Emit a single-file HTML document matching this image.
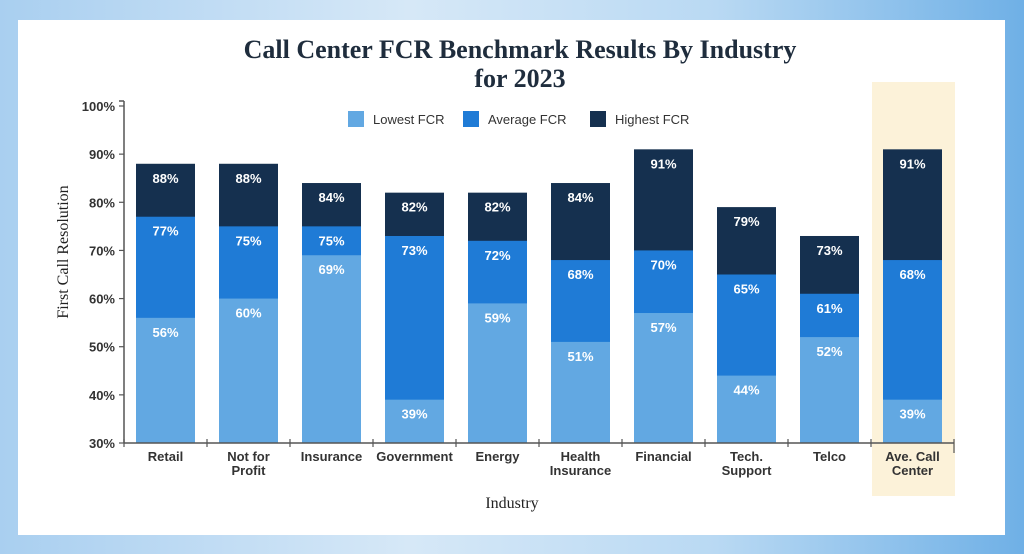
<!DOCTYPE html>
<html><head><meta charset="utf-8"><style>
body{margin:0;width:1024px;height:554px;overflow:hidden;background:linear-gradient(90deg,#a9cff0,#d6e8f7 40%,#b9d9f3 70%,#6fb0e6);font-family:"Liberation Sans",sans-serif}
#card{position:absolute;left:18px;top:20px;width:987px;height:515px;background:#fff}
</style></head><body>
<div id="card"></div>
<svg id="chart" width="1024" height="554" style="position:absolute;left:0;top:0">
<rect x="872" y="82" width="83" height="414" fill="#fcf2d9"/>
<text x="520" y="58" text-anchor="middle" font-family="Liberation Serif,serif" font-weight="bold" font-size="26" fill="#1f2d3d">Call Center FCR Benchmark Results By Industry</text>
<text x="520" y="87" text-anchor="middle" font-family="Liberation Serif,serif" font-weight="bold" font-size="26" fill="#1f2d3d">for 2023</text>
<text transform="translate(68,252) rotate(-90)" text-anchor="middle" font-family="Liberation Serif,serif" font-size="16" fill="#222">First Call Resolution</text>
<text x="512" y="508" text-anchor="middle" font-family="Liberation Serif,serif" font-size="16" fill="#222">Industry</text>
<g font-size="13" fill="#333">
<rect x="348" y="111" width="16" height="16" fill="#62a8e2"/><text x="373" y="124">Lowest FCR</text>
<rect x="463" y="111" width="16" height="16" fill="#1f7bd6"/><text x="488" y="124">Average FCR</text>
<rect x="590" y="111" width="16" height="16" fill="#15304f"/><text x="615" y="124">Highest FCR</text>
</g>
<g id="bars"></g><g id="axes"></g>
</svg>
<script>
const categories=[["Retail"],["Not for","Profit"],["Insurance"],["Government"],["Energy"],["Health","Insurance"],["Financial"],["Tech.","Support"],["Telco"],["Ave. Call","Center"]];
const lowest=[56,60,69,39,59,51,57,44,52,39];
const average=[77,75,75,73,72,68,70,65,61,68];
const highest=[88,88,84,82,82,84,91,79,73,91];
const yTicks=[30,40,50,60,70,80,90,100];
const NS="http://www.w3.org/2000/svg";
const x0=124,band=83,bw=59,yBase=443,yTop=106;
function y(v){return yBase-(v-30)/70*(yBase-yTop);}
function xc(i){return x0+band*i+band/2;}
function mk(t,a,p){const e=document.createElementNS(NS,t);for(const k in a)e.setAttribute(k,a[k]);p.appendChild(e);return e;}
const bars=document.getElementById('bars'),axes=document.getElementById('axes');
const series=[[highest,"#15304f","highest"],[average,"#1f7bd6","average"],[lowest,"#62a8e2","lowest"]];
categories.forEach((c,i)=>{
  series.forEach(([arr,col,nm])=>{
    const r=mk('rect',{x:xc(i)-bw/2,y:y(arr[i]),width:bw,height:yBase-y(arr[i]),fill:col},bars);
    
    
  });
  series.forEach(([arr,col,nm])=>{
    const t=mk('text',{x:xc(i),y:y(arr[i])+19,'text-anchor':'middle','font-size':13,'font-weight':'bold',fill:'#fff'},bars);
    t.textContent=arr[i]+'%';
    
    
  });
  c.forEach((ln,j)=>{
    const t=mk('text',{x:xc(i),y:461+j*14,'text-anchor':'middle','font-size':13,'font-weight':'bold',fill:'#333'},axes);
    t.textContent=ln;
    
    
  });
});
mk('line',{x1:x0,y1:101,x2:x0,y2:yBase,stroke:'#555','stroke-width':1.5},axes);
mk('line',{x1:x0-5,y1:101,x2:x0,y2:101,stroke:'#555','stroke-width':1.5},axes);
mk('line',{x1:x0,y1:yBase,x2:x0+band*categories.length,y2:yBase,stroke:'#555','stroke-width':1.5},axes);
for(let i=0;i<=categories.length;i++){mk('line',{x1:x0+band*i,y1:yBase-4,x2:x0+band*i,y2:yBase+(i==categories.length?10:4),stroke:'#555','stroke-width':1.2},axes);}
yTicks.forEach(v=>{
  mk('line',{x1:x0-5,y1:y(v),x2:x0,y2:y(v),stroke:'#555','stroke-width':1.2},axes);
  const t=mk('text',{x:x0-9,y:y(v)+5,'text-anchor':'end','font-size':13,'font-weight':'bold',fill:'#333'},axes);
  t.textContent=v+'%';
  
  
});
</script>
</body></html>
